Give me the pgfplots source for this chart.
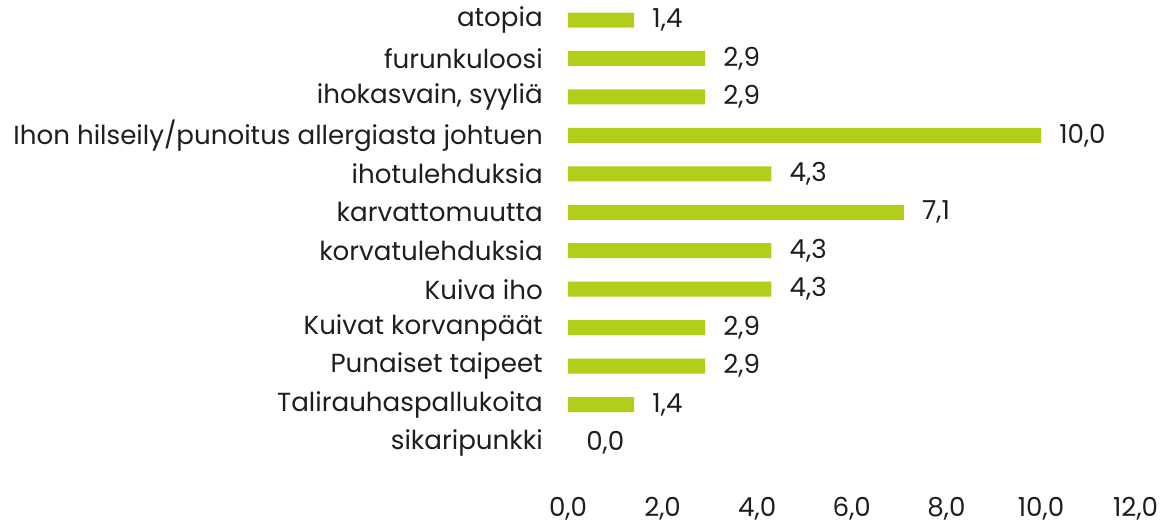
\documentclass[border=0pt]{standalone}
\usepackage{pgfplots}
\pgfplotsset{compat=1.18}
\usepackage{fontspec}
\setmainfont{Poppins}
\definecolor{barg}{RGB}{177,206,26}
\definecolor{txt}{RGB}{30,30,30}
\begin{document}
\begin{tikzpicture}
\useasboundingbox (0,0) rectangle (875.25pt,-394.5pt);
\begin{axis}[
  at={(426pt,-0.6pt)}, anchor=north west,
  scale only axis, width=425.7pt, height=346.05pt,
  xmin=0, xmax=12, ymin=-0.5, ymax=11.5, y dir=reverse,
  axis line style={draw=none}, major tick length=0pt,
  xtick={0,2,...,12},
  ytick={0,...,11},
  yticklabels={atopia, furunkuloosi, {ihokasvain, syyliä}, Ihon hilseily/punoitus allergiasta johtuen, ihotulehduksia, karvattomuutta, korvatulehduksia, Kuiva iho, Kuivat korvanpäät, Punaiset taipeet, Talirauhaspallukoita, sikaripunkki},
  font=\fontsize{19.6}{22}\selectfont,
  every tick label/.append style={text=txt},
  yticklabel style={anchor=east, inner sep=0pt, xshift=-18.75pt},
  xticklabel style={anchor=base, inner sep=0pt, yshift=-41pt},
  /pgf/number format/.cd, fixed, fixed zerofill, precision=1, use comma, assume math mode=true, /pgfplots/.cd,
  every node near coord/.append style={anchor=west, inner sep=0pt, xshift=13.5pt, text=txt},
]
\addplot[xbar, bar width=11.25pt, bar shift=0pt, fill=barg, draw=none, point meta=x, nodes near coords] coordinates {
(1.4,0) (2.9,1) (2.9,2) (10.0,3) (4.3,4) (7.1,5) (4.3,6) (4.3,7) (2.9,8) (2.9,9) (1.4,10)};
\addplot[draw=none, mark=none, point meta=x, nodes near coords] coordinates {(0.0,11)};
\end{axis}
\end{tikzpicture}
\end{document}
